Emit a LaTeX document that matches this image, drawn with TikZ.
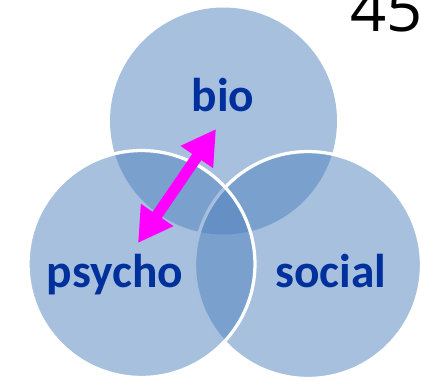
\documentclass[tikz,border=0pt]{standalone}
\usepackage{fontspec}
\setmainfont{Carlito}
\newfontfamily\numfont{Open Sans}
\usetikzlibrary{arrows.meta}
\definecolor{vennblue}{HTML}{4F81BD}
\definecolor{labelblue}{HTML}{00309C}
\definecolor{arrowpink}{HTML}{FF00FF}
\tikzset{>/.tip={Triangle[length=0.68cm,width=0.74cm]},
  venn/.style={fill=vennblue, fill opacity=0.5},
  rim/.style={draw=white, line width=0.065cm},
  lbl/.style={text=labelblue, anchor=base, font=\fontsize{27}{32}\selectfont\bfseries}}

\begin{document}
\begin{tikzpicture}[x=0.02cm, y=-0.02cm]
\useasboundingbox (0,0) rectangle (421,381);

\fill[venn] (223.5,121) circle[radius=2.27cm];
\path[venn,rim] (308,265) circle[radius=2.27cm];
\path[venn,rim] (141.5,264) circle[radius=2.27cm];

\node[lbl] (bio) at (223,112) {bio};
\node[lbl] (psycho) at (115,287) {psycho};
\node[lbl] (social) at (331,287) {social};

\node[anchor=base west, inner sep=0pt, font=\numfont\fontsize{36}{42}\selectfont] (num) at (350,32) {45};

\coordinate (arrbio) at (216,129);
\coordinate (arrpsy) at (138,243);
\draw[<->, arrowpink, line width=0.22cm] (arrbio) -- (arrpsy);
\end{tikzpicture}
\end{document}
